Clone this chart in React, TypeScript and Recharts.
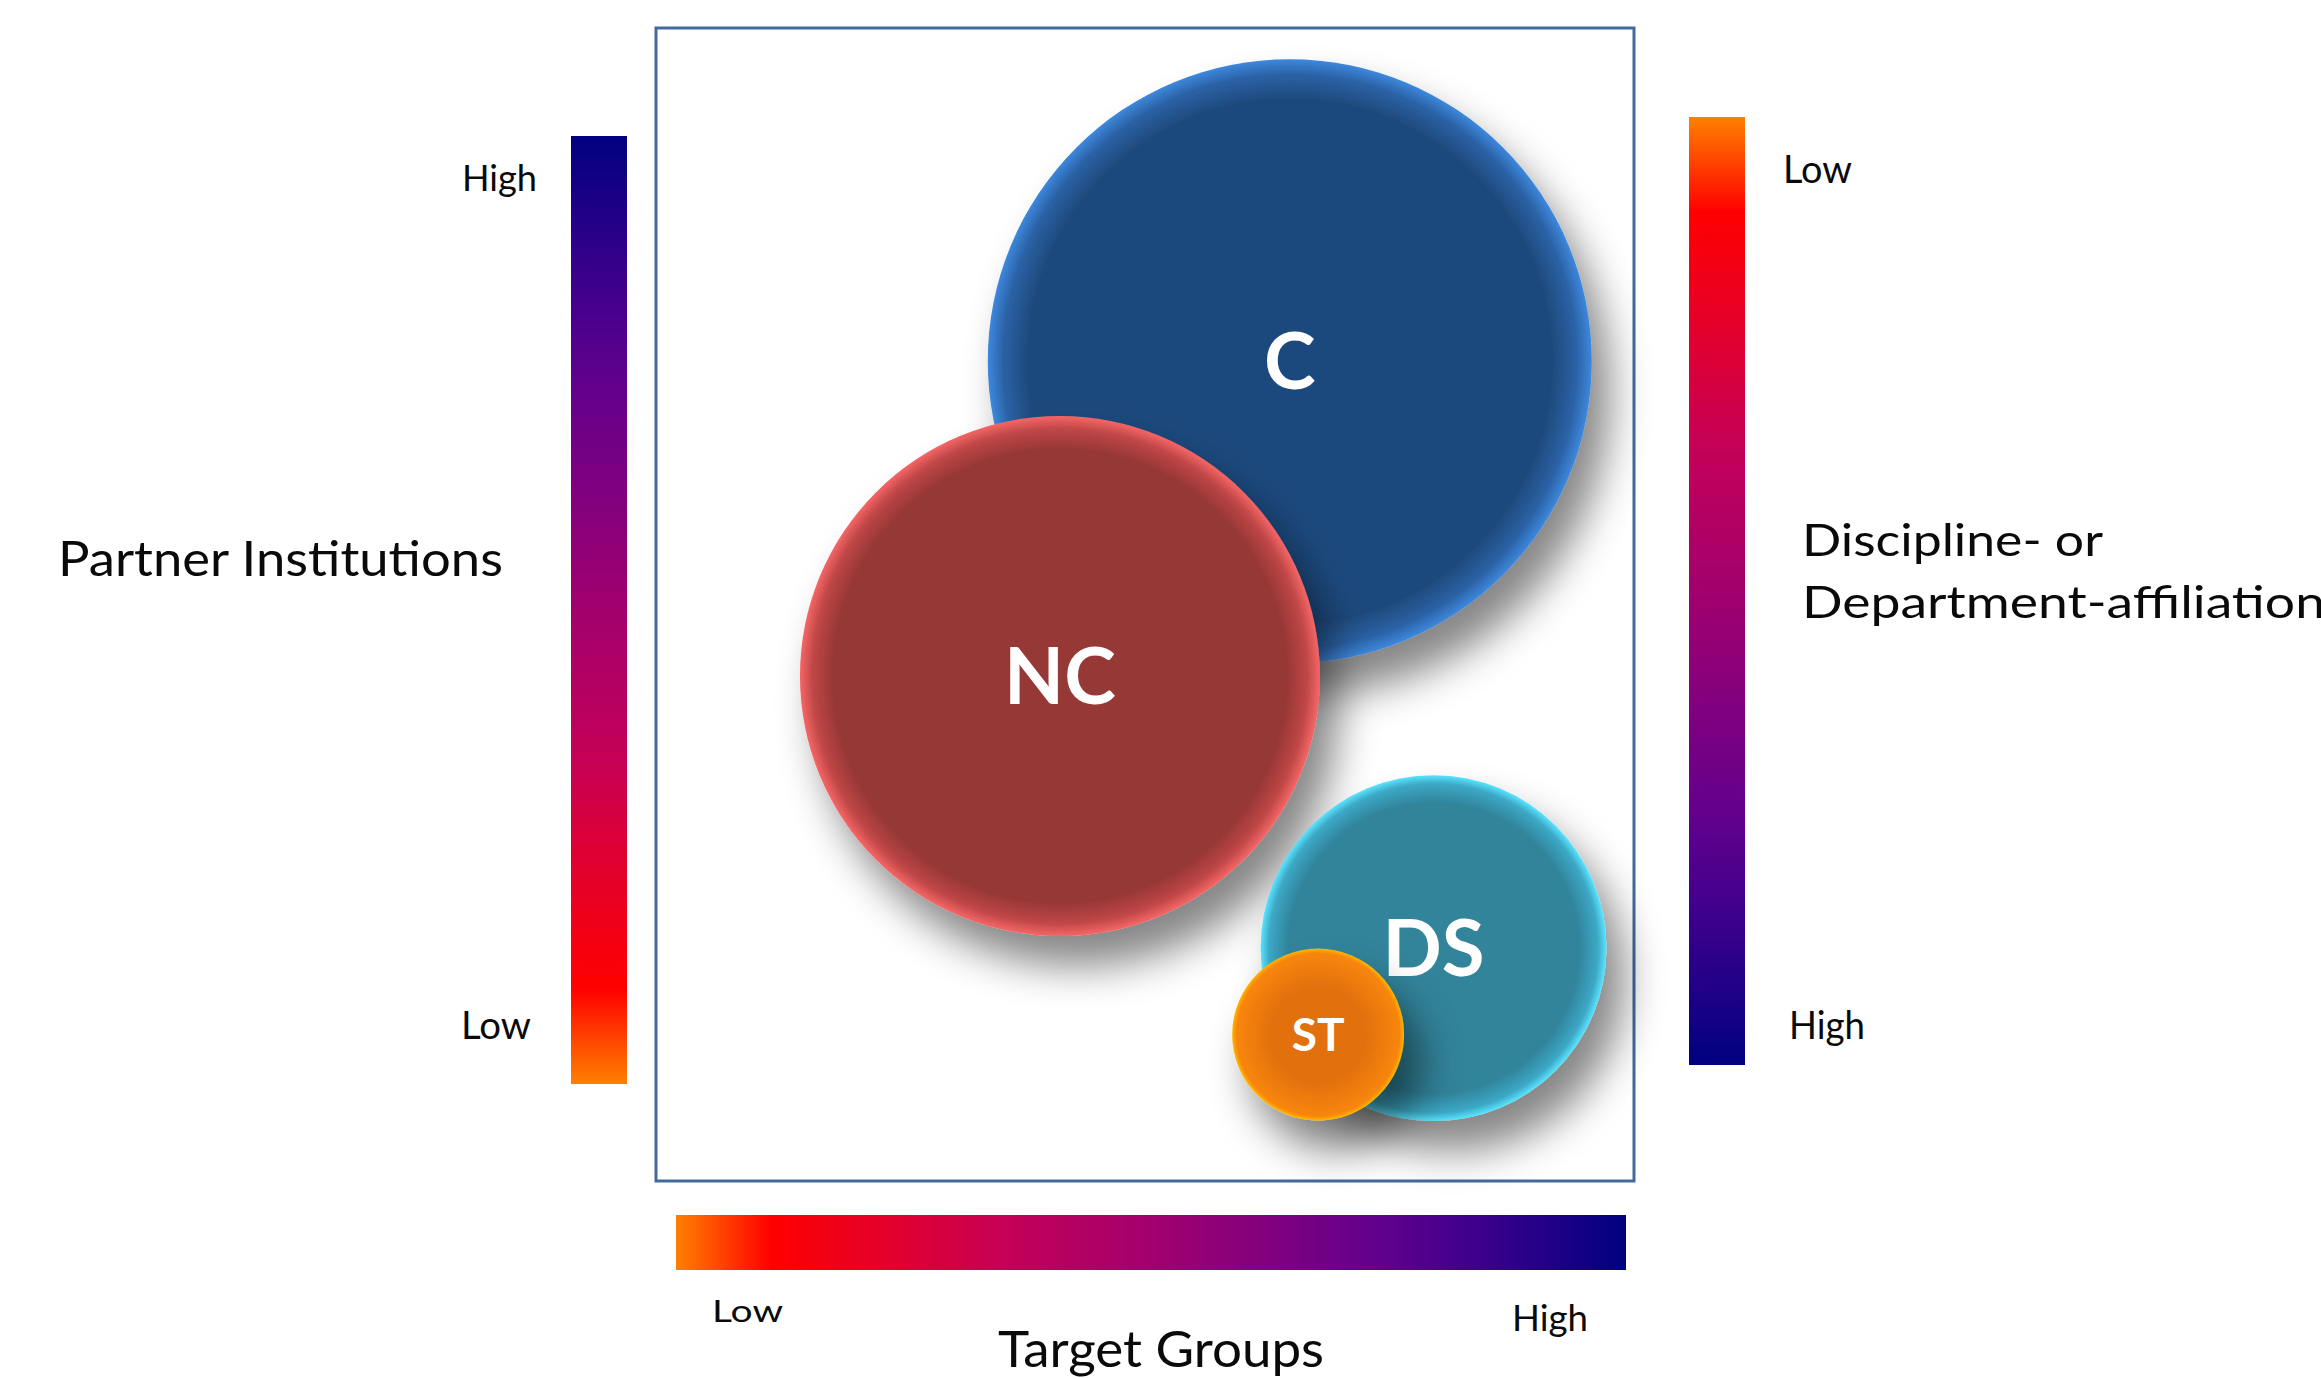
import React from 'react';
import { ScatterChart, Scatter, XAxis, YAxis, ZAxis, ReferenceArea } from 'recharts';

// ---- data ----
const bubbleNames = ['C', 'NC', 'DS', 'ST'];
const targetGroups = [6.48, 4.13, 7.95, 6.77]; // x value (Target Groups, low -> high)
const partnerInstitutions = [7.11, 4.38, 2.02, 1.27]; // y value (Partner Institutions, low -> high)
const affiliationSize = [100, 74.1, 32.8, 8.1]; // bubble size (relative area)
const scaleLabels = ['Low', 'High'];
const axisTitles = ['Partner Institutions', 'Target Groups', 'Discipline- or', 'Department-affiliation'];

const data = bubbleNames.map((name, i) => ({
  name,
  x: targetGroups[i],
  y: partnerInstitutions[i],
  z: affiliationSize[i],
}));

// ---- styles ----
const bubbleStyle: Record<string, { inner: string; mid: string; edge: string; font: number; solid: number }> = {
  C: { inner: '#1F4A7D', mid: '#2B62A6', edge: '#3D88DD', font: 78, solid: 0.87 },
  NC: { inner: '#963735', mid: '#BF4646', edge: '#F56666', font: 78, solid: 0.87 },
  DS: { inner: '#31849B', mid: '#3CA8C6', edge: '#5AE4FF', font: 78, solid: 0.84 },
  ST: { inner: '#E2700C', mid: '#F8860A', edge: '#FFB800', font: 46, solid: 0.55 },
};

const W = 2321;
const H = 1379;
const FONT = 'Lato, "Open Sans", sans-serif';

const Bubble = (props: any) => {
  const { cx, cy, payload } = props;
  if (cx == null || cy == null) return null;
  const r = props.width ? props.width / 2 : Math.sqrt((props.size || 0) / Math.PI);
  const st = bubbleStyle[payload.name];
  const gid = `grad-${payload.name}`;
  const fid = `shadow-${payload.name}`;
  return (
    <g>
      <defs>
        <radialGradient id={gid} cx="50%" cy="50%" r="50%">
          <stop offset="0" stopColor={st.inner} />
          <stop offset={st.solid} stopColor={st.inner} />
          <stop offset="0.95" stopColor={st.mid} />
          <stop offset="1" stopColor={st.edge} />
        </radialGradient>
        <filter id={fid} x="-40%" y="-40%" width="180%" height="180%">
          <feDropShadow dx="18" dy="30" stdDeviation="20" floodColor="#000" floodOpacity="0.48" />
        </filter>
      </defs>
      <circle cx={cx} cy={cy} r={r} fill={`url(#${gid})`} filter={`url(#${fid})`} />
      <text
        x={cx}
        y={cy + st.font * 0.3585}
        textAnchor="middle"
        fill="#FFFFFF"
        fontFamily={FONT}
        fontWeight={700}
        fontSize={st.font}
      >
        {payload.name}
      </text>
    </g>
  );
};

const gradStops = [
  ['0', '#FF8000'],
  ['0.1', '#FF0000'],
  ['0.22', '#E4002A'],
  ['0.35', '#C40058'],
  ['0.5', '#A2006E'],
  ['0.62', '#82007E'],
  ['0.75', '#5E008E'],
  ['0.88', '#30008A'],
  ['1', '#000080'],
];

const Label = ({ x, y, size, len, children }: any) => (
  <text
    x={x}
    y={y}
    fontFamily={FONT}
    fontSize={size}
    fill="#0A0A0A"
    textLength={len}
    lengthAdjust="spacingAndGlyphs"
  >
    {children}
  </text>
);

const Decorations = () => (
  <svg width={W} height={H} style={{ position: 'absolute', left: 0, top: 0 }}>
    <defs>
      <linearGradient id="gUp" x1="0" y1="1" x2="0" y2="0">
        {gradStops.map(([o, c]) => <stop key={o} offset={o} stopColor={c} />)}
      </linearGradient>
      <linearGradient id="gDown" x1="0" y1="0" x2="0" y2="1">
        {gradStops.map(([o, c]) => <stop key={o} offset={o} stopColor={c} />)}
      </linearGradient>
      <linearGradient id="gRight" x1="0" y1="0" x2="1" y2="0">
        {gradStops.map(([o, c]) => <stop key={o} offset={o} stopColor={c} />)}
      </linearGradient>
    </defs>
    <rect x={571} y={136} width={56} height={948} fill="url(#gUp)" />
    <rect x={1689} y={117} width={56} height={948} fill="url(#gDown)" />
    <rect x={676} y={1215} width={950} height={55} fill="url(#gRight)" />

    <Label x={58} y={576} size={49} len={445}>{axisTitles[0]}</Label>
    <Label x={462} y={191} size={37} len={75}>{scaleLabels[1]}</Label>
    <Label x={461} y={1039} size={38} len={70}>{scaleLabels[0]}</Label>

    <Label x={1783} y={183} size={39} len={69}>{scaleLabels[0]}</Label>
    <Label x={1789} y={1039} size={38} len={76}>{scaleLabels[1]}</Label>
    <Label x={1802} y={556} size={45} len={301}>{axisTitles[2]}</Label>
    <Label x={1802} y={618} size={45} len={523}>{axisTitles[3]}</Label>

    <Label x={712} y={1322} size={31} len={71}>{scaleLabels[0]}</Label>
    <Label x={998} y={1367} size={50} len={326}>{axisTitles[1]}</Label>
    <Label x={1512} y={1331} size={37} len={76}>{scaleLabels[1]}</Label>
  </svg>
);

export default function App() {
  return (
    <div style={{ position: 'relative', width: W, height: H, background: '#FFFFFF', overflow: 'hidden' }}>
      <style>{'body{margin:0;overflow:hidden;background:#fff}'}</style>
      <Decorations />
      <div style={{ position: 'absolute', left: 0, top: 0 }}>
        <ScatterChart width={W} height={H} margin={{ top: 28, right: 687, bottom: 198, left: 656 }}>
          <XAxis type="number" dataKey="x" domain={[0, 10]} hide />
          <YAxis type="number" dataKey="y" domain={[0, 10]} hide />
          <ZAxis type="number" dataKey="z" domain={[0, 100]} range={[0, Math.PI * 302 * 302]} />
          <ReferenceArea x1={0} x2={10} y1={0} y2={10} fill="none" fillOpacity={0} stroke="#44699B" strokeWidth={3} />
          <Scatter data={data} shape={(p: any) => <Bubble {...p} />} isAnimationActive={false} />
        </ScatterChart>
      </div>
    </div>
  );
}
